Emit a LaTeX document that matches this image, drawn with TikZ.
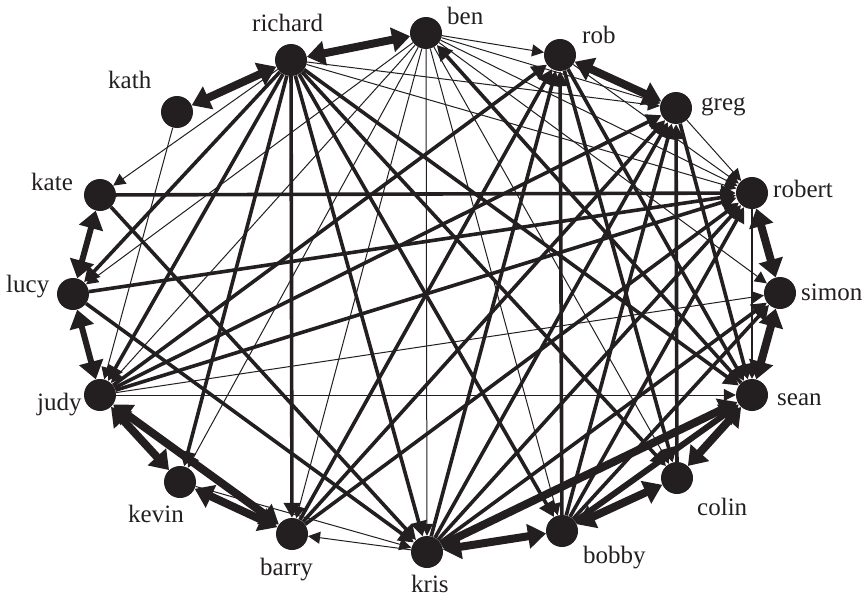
\documentclass[tikz,border=0pt]{standalone}
\usepackage{fontspec}
\setmainfont{Liberation Serif}
\usetikzlibrary{arrows.meta}
\definecolor{ink}{HTML}{231F20}
\tikzset{
  vnode/.style={circle,fill=ink,draw=none,minimum size=32pt,inner sep=0pt},
  lbl/.style={anchor=base west,font=\fontsize{25}{25}\selectfont,text=ink,inner sep=0pt},
  bigedge/.style={draw=ink,line width=8pt,{Triangle[length=18pt,width=24pt]}-{Triangle[length=18pt,width=24pt]}},
  bigone/.style={draw=ink,line width=8pt,-{Triangle[length=18pt,width=24pt]}},
  medge/.style={draw=ink,line width=3.6pt,-{Triangle[length=15pt,width=16pt]}},
  tedge/.style={draw=ink,line width=1pt,-{Triangle[length=12pt,width=12pt]}},
}
\begin{document}
\begin{tikzpicture}[x=1pt,y=-1pt]
\useasboundingbox (0,0) rectangle (868,597);
% nodes
\node[vnode] (richard) at (291,60) {};
\node[vnode] (ben) at (426,33) {};
\node[vnode] (rob) at (560,55) {};
\node[vnode] (greg) at (676,108) {};
\node[vnode] (kath) at (177,112) {};
\node[vnode] (kate) at (100,195) {};
\node[vnode] (robert) at (752,193) {};
\node[vnode] (lucy) at (73,294) {};
\node[vnode] (simon) at (780,293) {};
\node[vnode] (judy) at (100,395) {};
\node[vnode] (sean) at (752,395) {};
\node[vnode] (kevin) at (180,482) {};
\node[vnode] (colin) at (677,478) {};
\node[vnode] (barry) at (292,534) {};
\node[vnode] (kris) at (427,552) {};
\node[vnode] (bobby) at (562,531) {};
% labels
\node[lbl] (lrichard) at (252,31) {richard};
\node[lbl] (lben) at (447,24) {ben};
\node[lbl] (lrob) at (582,43) {rob};
\node[lbl] (lgreg) at (701,110) {greg};
\node[lbl] (lkath) at (108,88) {kath};
\node[lbl] (lkate) at (31,190) {kate};
\node[lbl] (lrobert) at (773,197) {robert};
\node[lbl] (lsimon) at (801,300) {simon};
\node[lbl] (lsean) at (777,405) {sean};
\node[lbl] (llucy) at (6,292) {lucy};
\node[lbl] (ljudy) at (37,410) {judy};
\node[lbl] (lkevin) at (128,522) {kevin};
\node[lbl] (lbarry) at (260,575) {barry};
\node[lbl] (lkris) at (411,592) {kris};
\node[lbl] (lbobby) at (583,563) {bobby};
\node[lbl] (lcolin) at (697,515) {colin};
% thin edges
\draw[tedge] (richard) -- (kate);
\draw[tedge] (ben) -- (lucy);
\draw[tedge] (ben) -- (judy);
\draw[tedge] (ben) -- (kevin);
\draw[tedge] (ben) -- (barry);
\draw[tedge] (ben) -- (kris);
\draw[tedge] (ben) -- (bobby);
\draw[tedge] (ben) -- (rob);
\draw[tedge] (ben) -- (greg);
\draw[tedge] (ben) -- (robert);
\draw[tedge] (ben) -- (simon);
\draw[tedge] (ben) -- (colin);
\draw[tedge] (kath) -- (judy);
\draw[tedge] (richard) -- (robert);
\draw[tedge] (richard) -- (greg);
\draw[tedge] (judy) -- (simon);
\draw[tedge] (judy) -- (sean);
\draw[tedge] (kris) -- (barry);
\draw[tedge] (kevin) -- (kris);
\draw[tedge] (greg) -- (robert);
\draw[tedge] (rob) -- (robert);
% medium edges
\draw[medge] (kate) -- (robert);
\draw[medge] (kate) -- (kris);
\draw[medge] (lucy) -- (robert);
\draw[medge] (lucy) -- (kris);
\draw[medge] (richard) -- (lucy);
\draw[medge] (richard) -- (judy);
\draw[medge] (richard) -- (kevin);
\draw[medge] (richard) -- (barry);
\draw[medge] (richard) -- (kris);
\draw[medge] (richard) -- (bobby);
\draw[medge] (richard) -- (colin);
\draw[medge] (richard) -- (sean);
\draw[medge] (judy) -- (rob);
\draw[medge] (judy) -- (greg);
\draw[medge] (judy) -- (robert);
\draw[medge] (barry) -- (rob);
\draw[medge] (kris) -- (rob);
\draw[medge] (bobby) -- (rob);
\draw[medge] (rob) -- (colin);
\draw[medge] (rob) -- (sean);
\draw[medge] (kris) -- (greg);
\draw[medge] (bobby) -- (greg);
\draw[medge] (colin) -- (greg);
\draw[medge] (greg) -- (sean);
\draw[medge] (barry) -- (greg);
\draw[medge] (kris) -- (robert);
\draw[medge] (bobby) -- (robert);
\draw[medge] (barry) -- (robert);
\draw[medge] (kris) -- (simon);
\draw[medge] (bobby) -- (simon);
\draw[medge] (sean) -- (ben);
\draw[medge,line width=2.2pt] (robert) -- (sean);
% heavy ring edges
\draw[bigedge] (richard) -- (kath);
\draw[bigedge] (richard) -- (ben);
\draw[bigedge] (rob) -- (greg);
\draw[bigedge] (robert) -- (simon);
\draw[bigedge] (simon) -- (sean);
\draw[bigedge] (sean) -- (colin);
\draw[bigedge] (colin) -- (bobby);
\draw[bigedge] (bobby) -- (kris);
\draw[bigedge] (barry) -- (kevin);
\draw[bigedge] (kevin) -- (judy);
\draw[bigedge,line width=6pt] (judy) -- (lucy);
\draw[bigedge,line width=6pt] (lucy) -- (kate);
\draw[bigedge] (judy) -- (barry);
\draw[bigone] (kris) -- (sean);
\draw[bigone,line width=6pt] (bobby) -- (sean);
\end{tikzpicture}
\end{document}
